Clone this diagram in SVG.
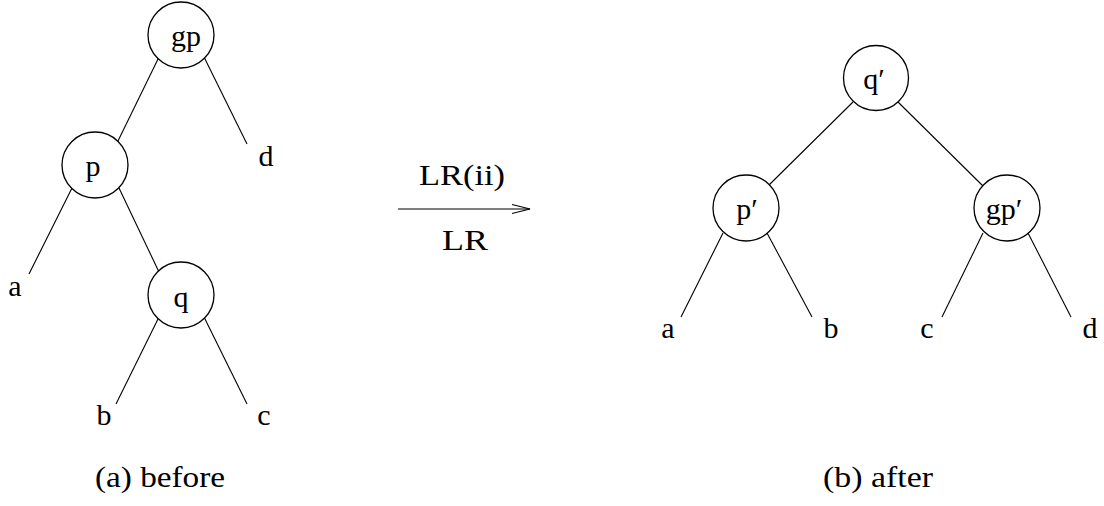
<svg xmlns="http://www.w3.org/2000/svg" width="1104" height="506" viewBox="0 0 1104 506">
<style>
text{font-family:"Liberation Serif","Times New Roman",serif;font-size:30px;fill:#000;text-anchor:middle}
.n circle{fill:#fff;stroke:#000;stroke-width:1.3}
#edges line{stroke:#000;stroke-width:1.1}
</style>
<rect width="1104" height="506" fill="#fff"/>
<g id="edges">
<line x1="159" y1="57" x2="117" y2="143"/>
<line x1="204" y1="57" x2="247" y2="144"/>
<line x1="72" y1="188" x2="29" y2="274"/>
<line x1="119" y1="188" x2="159" y2="272"/>
<line x1="159" y1="317" x2="116" y2="404"/>
<line x1="204" y1="317" x2="247" y2="404"/>
<line x1="853" y1="102" x2="767" y2="187"/>
<line x1="898" y1="102" x2="984" y2="187"/>
<line x1="723" y1="233" x2="681" y2="317"/>
<line x1="767" y1="233" x2="812" y2="317"/>
<line x1="983" y1="233" x2="942" y2="317"/>
<line x1="1028" y1="233" x2="1071" y2="317"/>
<line x1="398" y1="209" x2="530" y2="209"/>
<polyline points="512,204.5 530,209 512,213.5" fill="none" stroke="#000" stroke-width="1.1"/>
</g>
<g id="gp" class="n"><circle cx="181" cy="35" r="33"/><text x="186" y="46">gp</text></g>
<g id="p" class="n"><circle cx="95" cy="165" r="33"/><text x="93" y="176">p</text></g>
<g id="q" class="n"><circle cx="181" cy="295" r="33"/><text x="181" y="307">q</text></g>
<g id="a1"><text x="15" y="296">a</text></g>
<g id="b1"><text x="104" y="425">b</text></g>
<g id="c1"><text x="264" y="425">c</text></g>
<g id="d1"><text x="266" y="166">d</text></g>
<g id="qp" class="n"><circle cx="876" cy="78" r="32.5"/><text x="874" y="89">q′</text></g>
<g id="pp" class="n"><circle cx="746" cy="208" r="33"/><text x="747" y="219">p′</text></g>
<g id="gpp" class="n"><circle cx="1007" cy="208" r="33"/><text x="1004" y="219">gp′</text></g>
<g id="a2"><text x="668" y="338">a</text></g>
<g id="b2"><text x="831" y="338">b</text></g>
<g id="c2"><text x="927" y="338">c</text></g>
<g id="d2"><text x="1090" y="338">d</text></g>
<g id="arrowlabels">
<text x="462" y="185" textLength="86" lengthAdjust="spacingAndGlyphs">LR(ii)</text>
<text x="465" y="250" textLength="46" lengthAdjust="spacingAndGlyphs">LR</text>
</g>
<g id="captions">
<text x="160" y="487" textLength="130" lengthAdjust="spacingAndGlyphs">(a) before</text>
<text x="878" y="487" textLength="110" lengthAdjust="spacingAndGlyphs">(b) after</text>
</g>
</svg>
